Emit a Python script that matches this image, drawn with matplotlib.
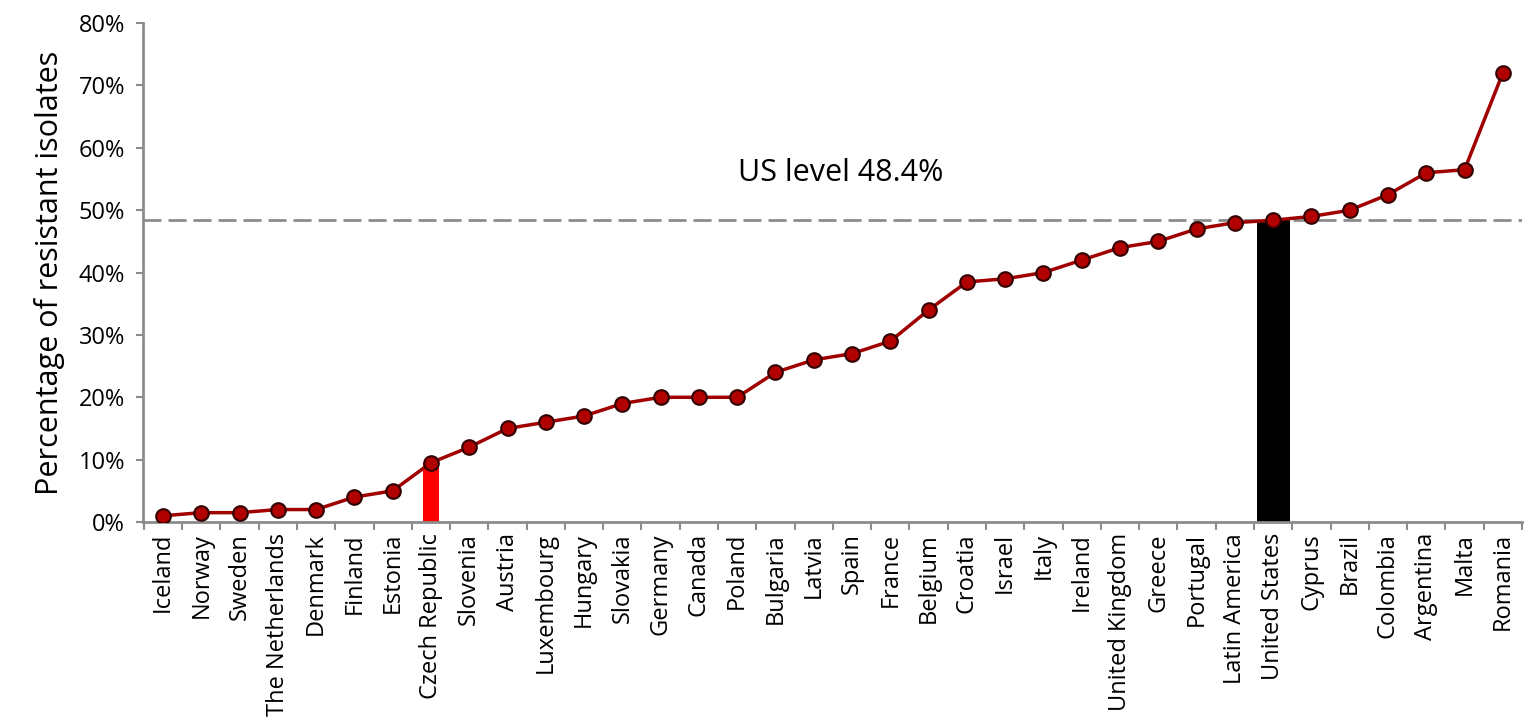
import matplotlib.pyplot as plt
import numpy as np
from matplotlib.ticker import PercentFormatter

countries = ['Iceland', 'Norway', 'Sweden', 'The Netherlands', 'Denmark', 'Finland',
             'Estonia', 'Czech Republic', 'Slovenia', 'Austria', 'Luxembourg', 'Hungary',
             'Slovakia', 'Germany', 'Canada', 'Poland', 'Bulgaria', 'Latvia', 'Spain',
             'France', 'Belgium', 'Croatia', 'Israel', 'Italy', 'Ireland', 'United Kingdom',
             'Greece', 'Portugal', 'Latin America', 'United States', 'Cyprus', 'Brazil',
             'Colombia', 'Argentina', 'Malta', 'Romania']
values = [1, 1.5, 1.5, 2, 2, 4, 5, 9.5, 12, 15, 16, 17, 19, 20, 20, 20, 24, 26, 27, 29,
          34, 38.5, 39, 40, 42, 44, 45, 47, 48, 48.4, 49, 50, 52.5, 56, 56.5, 72]
us_level = 48.4

plt.rcParams['font.family'] = ['Open Sans', 'DejaVu Sans']

fig = plt.figure(figsize=(15.27, 7.23), dpi=100)
ax = fig.add_axes([0.0937, 0.278, 0.903, 0.69])

x = np.arange(len(countries))
cz = countries.index('Czech Republic')
us = countries.index('United States')

ax.bar(x[cz], values[cz], width=0.4, color='#ff0000', zorder=2)
ax.bar(x[us], values[us], width=0.86, color='black', zorder=2)
ax.axhline(us_level, color='#8c8c8c', linestyle=(0, (6.5, 2.5)), linewidth=2, zorder=1)
ax.plot(x, values, color='#a00000', linewidth=2.5, marker='o', markersize=10.5,
        markerfacecolor='#b00000', markeredgecolor='#300000', markeredgewidth=1.5, zorder=3)
ax.text(17.7, 56, 'US level 48.4%', ha='center', va='center', fontsize=22)

ax.set_xlim(-0.52, len(countries) - 0.5)
ax.set_ylim(0, 80)
ax.set_yticks(np.arange(0, 81, 10))
ax.yaxis.set_major_formatter(PercentFormatter(decimals=0))
ax.set_xticks(x)
ax.set_xticklabels(countries, rotation=90, fontsize=17)
ax.set_xticks(np.arange(-0.5, len(countries), 1), minor=True)
ax.tick_params(axis='x', which='major', length=0, pad=8)
ax.tick_params(axis='x', which='minor', length=6, color='#8c8c8c', width=1.5)
ax.tick_params(axis='y', labelsize=17, length=5, color='#8c8c8c', width=1.5, pad=8)
ax.set_ylabel('Percentage of resistant isolates', fontsize=22, labelpad=10)

for s in ['top', 'right']:
    ax.spines[s].set_visible(False)
for s in ['left', 'bottom']:
    ax.spines[s].set_color('#8c8c8c')
    ax.spines[s].set_linewidth(2)

fig.savefig('out.png', dpi=100)
